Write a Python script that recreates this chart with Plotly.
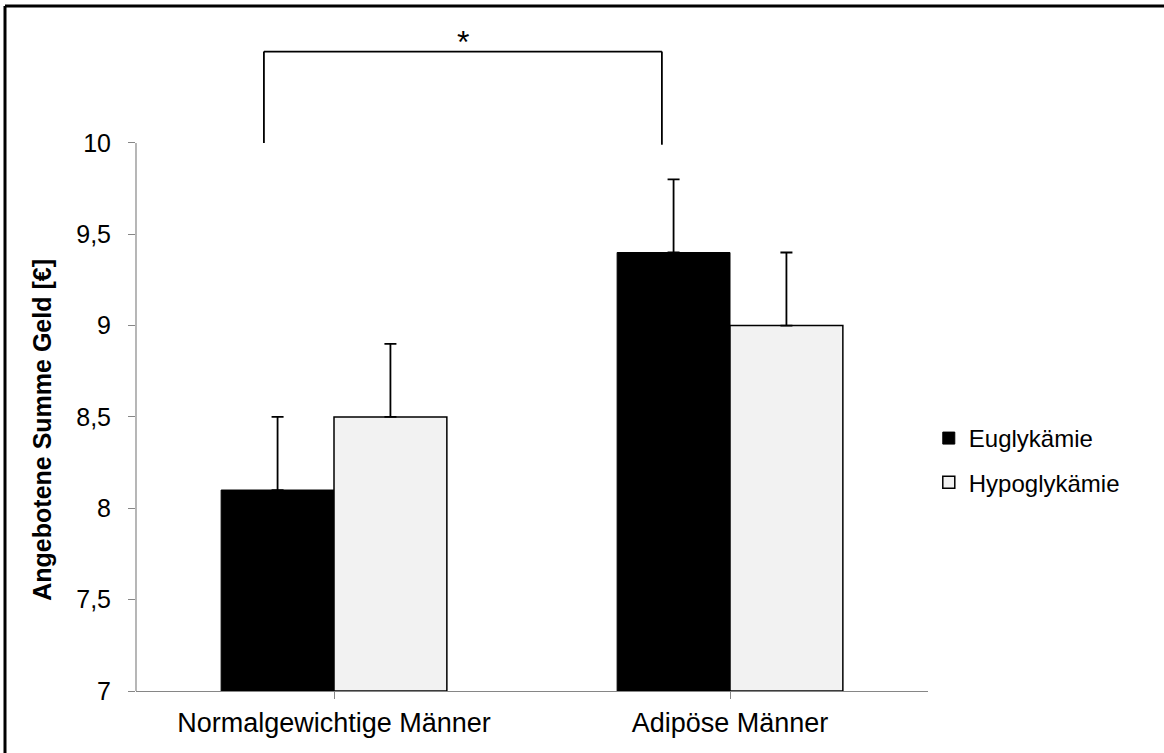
import plotly.graph_objects as go

categories = ["Normalgewichtige Männer", "Adipöse Männer"]
series_names = ["Euglykämie", "Hypoglykämie"]
eu_values = [8.1, 9.4]
hypo_values = [8.5, 9.0]
eu_err = [0.4, 0.4]
hypo_err = [0.4, 0.4]
y_ticks = [7, 7.5, 8, 8.5, 9, 9.5, 10]
y_tick_labels = ["7", "7,5", "8", "8,5", "9", "9,5", "10"]
y_title = "Angebotene Summe Geld [€]"
sig_label = "*"
sig_low, sig_high = 10.0, 10.5

FONT = "Liberation Sans, Arial, sans-serif"
AXIS_GRAY = "#868686"

x_idx = list(range(len(categories)))

fig = go.Figure()
fig.add_trace(go.Bar(
    x=x_idx, y=[v - 7 for v in eu_values], base=7, name=series_names[0],
    marker=dict(color="#000000", line=dict(color="#000000", width=1)),
    error_y=dict(type="data", symmetric=False, array=eu_err, arrayminus=[0, 0],
                 color="#000000", thickness=1.8, width=6),
    legendgroup="a",
))
fig.add_trace(go.Bar(
    x=x_idx, y=[v - 7 for v in hypo_values], base=7, name=series_names[1],
    marker=dict(color="#f2f2f2", line=dict(color="#000000", width=1.5)),
    error_y=dict(type="data", symmetric=False, array=hypo_err, arrayminus=[0, 0],
                 color="#000000", thickness=1.8, width=6),
    legendgroup="b",
))

# significance bracket between the Euglykämie bars
leg_off = -0.177
xl = x_idx[0] + leg_off
xr = x_idx[1] + leg_off + 0.005
shapes = [
    dict(type="line", xref="x", yref="y", x0=xl, x1=xl, y0=sig_low, y1=sig_high,
         line=dict(color="black", width=1.8)),
    dict(type="line", xref="x", yref="y", x0=xr, x1=xr, y0=sig_low - 0.01, y1=sig_high,
         line=dict(color="black", width=1.8)),
    dict(type="line", xref="x", yref="y", x0=xl, x1=xr, y0=sig_high, y1=sig_high,
         line=dict(color="black", width=1.8)),
    # y axis line only from 7 to 10
    dict(type="line", xref="paper", yref="y", x0=0, x1=0, y0=y_ticks[0], y1=y_ticks[-1],
         line=dict(color=AXIS_GRAY, width=1.2)),
    # outer frame (top and left visible)
    dict(type="line", xref="paper", yref="paper", x0=-0.1654, x1=1.35, y0=1.0133, y1=1.0133,
         line=dict(color="black", width=3)),
    dict(type="line", xref="paper", yref="paper", x0=-0.1654, x1=-0.1654, y0=1.0133, y1=-0.15,
         line=dict(color="black", width=3)),
]

fig.update_layout(
    width=1164, height=753,
    margin=dict(l=136, r=236, t=15, b=62),
    paper_bgcolor="white", plot_bgcolor="white",
    barmode="group", bargap=0.43, bargroupgap=0,
    font=dict(family=FONT, size=24, color="black"),
    shapes=shapes,
    annotations=[
        dict(x=(xl + xr) / 2, y=sig_high, xref="x", yref="y", text=sig_label,
             showarrow=False, yanchor="bottom", font=dict(size=32, family=FONT),
             yshift=-10),
        dict(x=-0.1187, y=8.43, xref="paper", yref="y", text="<b>" + y_title + "</b>",
             textangle=-90, showarrow=False, xanchor="center", yanchor="middle",
             font=dict(size=25, family=FONT)),
    ],
    legend=dict(x=1.001, xanchor="left", y=0.341, yanchor="middle",
                font=dict(size=24, family=FONT), tracegroupgap=10,
                traceorder="grouped", bgcolor="rgba(0,0,0,0)"),
    showlegend=True,
)
fig.update_xaxes(
    range=[-0.5, 1.5], tickvals=x_idx, ticktext=categories, tickson="boundaries",
    showline=True, linecolor=AXIS_GRAY, linewidth=1.2, ticks="outside", ticklen=7,
    tickcolor=AXIS_GRAY, showgrid=False, zeroline=False, fixedrange=True,
    tickfont=dict(size=27), ticklabelstandoff=0,
)
fig.update_yaxes(
    range=[7, 10.7], tickvals=y_ticks, ticktext=y_tick_labels, showline=False,
    ticks="outside", ticklen=7, tickcolor=AXIS_GRAY, showgrid=False, zeroline=False,
    ticklabelstandoff=12, tickfont=dict(size=25),
)
fig.write_html("out.html")
